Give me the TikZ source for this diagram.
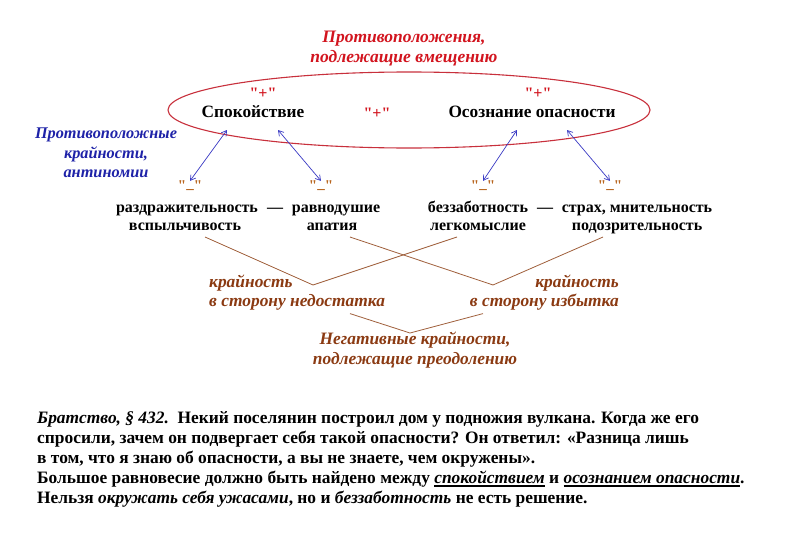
\documentclass[tikz,border=0pt]{standalone}
\usepackage{fontspec}
\setmainfont{Liberation Serif}
\newfontfamily\plainserif[Ligatures=TeXOff]{Liberation Serif}
\usepackage{tikz}
\usetikzlibrary{calc,arrows.meta}
\definecolor{redtxt}{HTML}{D2141E}
\definecolor{ovalred}{HTML}{C8303C}
\definecolor{bluetxt}{HTML}{1E22A8}
\definecolor{arrowblue}{HTML}{3A3AC4}
\definecolor{browntxt}{HTML}{8B3A12}
\definecolor{brownline}{HTML}{A0603C}
\definecolor{minusbrown}{HTML}{B8651E}
\tikzset{
  ovalline/.style={draw=ovalred, line width=1.1pt},
  antarr/.style={draw=arrowblue, line width=0.7pt, {Straight Barb[length=5pt,width=6pt]}-{Straight Barb[length=5pt,width=6pt]}},
  brownseg/.style={draw=brownline, line width=0.8pt},
  term/.style={inner sep=0pt, anchor=base, font=\fontsize{16}{19}\selectfont\bfseries},
  bigterm/.style={term, font=\fontsize{17.3}{20}\selectfont\bfseries},
  redlab/.style={inner sep=0pt, text=redtxt, align=center, font=\fontsize{17.5}{20}\selectfont\bfseries\itshape},
  bluelab/.style={inner sep=0pt, text=bluetxt, align=center, font=\fontsize{16.3}{19.5}\selectfont\bfseries\itshape},
  brownlab/.style={inner sep=0pt, text=browntxt, font=\fontsize{17.4}{19.5}\selectfont\bfseries\itshape},
  plusmark/.style={inner sep=0pt, text=redtxt, font=\plainserif\fontsize{16}{16}\selectfont\bfseries},
  minusmark/.style={inner sep=0pt, text=minusbrown, font=\plainserif\fontsize{15}{16}\selectfont\bfseries},
}
\newcommand{\thickul}[1]{\setbox0\hbox{#1}\mbox{\rlap{\rule[-3pt]{\wd0}{1.5pt}}\box0}}
\newcommand{\lowdash}{"\raisebox{2.5pt}{\_}"}

\begin{document}
\begin{tikzpicture}[x=1pt,y=-1pt]
  \useasboundingbox[fill=white] (0,0) rectangle (800,543);
  % opposites to be held together
  \node[redlab] (title) at (404,49) {Противоположения,\\подлежащие вмещению};
  \draw[ovalline] (409,110) ellipse [x radius=241, y radius=38];
  \node[plusmark] (plusA) at (263,93) {"+"};
  \node[plusmark] (plusM) at (377,113) {"+"};
  \node[plusmark] (plusB) at (538,93) {"+"};
  \node[bigterm] (calm) at (253,117.5) {Спокойствие};
  \node[bigterm] (aware) at (532,117.5) {Осознание опасности};
  \node[bluelab] (antin) at (106,153) {Противоположные\\крайности,\\антиномии};
  % negative extremes
  \node[minusmark] (mA) at (190,186) {\lowdash};
  \node[minusmark] (mB) at (321,186) {\lowdash};
  \node[minusmark] (mC) at (483,186) {\lowdash};
  \node[minusmark] (mD) at (610,186) {\lowdash};
  \node[term] (irrit) at (187,212) {раздражительность};
  \node[term] (dashA) at (275,212) {—};
  \node[term] (indiff) at (336,212) {равнодушие};
  \node[term] (flash) at (185,230.5) {вспыльчивость};
  \node[term] (apathy) at (332,230.5) {апатия};
  \node[term] (careless) at (478,212) {беззаботность};
  \node[term] (dashB) at (545,212) {—};
  \node[term] (fear) at (637,212) {страх, мнительность};
  \node[term] (light) at (478,230.5) {легкомыслие};
  \node[term] (suspic) at (637,230.5) {подозрительность};
  \draw[antarr] ($(calm.base)+(-26,12.5)$) -- (mA.north);
  \draw[antarr] ($(calm.base)+(25,12.5)$) -- (mB.north);
  \draw[antarr] ($(aware.base)+(-15,12.5)$) -- (mC.north);
  \draw[antarr] ($(aware.base)+(35,12.5)$) -- (mD.north);
  % deficiency / excess
  \node[brownlab, align=left, anchor=west] (lack) at (209,292.5) {крайность\\в сторону недостатка};
  \node[brownlab, align=right, anchor=east] (excess) at (619,292.5) {крайность\\в сторону избытка};
  \node[brownlab, align=center] (neg) at (415,350) {Негативные крайности,\\подлежащие преодолению};
  \coordinate (lackV) at (313,285);
  \coordinate (excessV) at (493,285);
  \coordinate (negV) at (410,333);
  \draw[brownseg] ($(flash.base)+(20,6.5)$) -- (lackV) -- ($(light.base)+(-21,6.5)$);
  \draw[brownseg] ($(apathy.base)+(18,6.5)$) -- (excessV) -- ($(suspic.base)+(-34,6.5)$);
  \draw[brownseg] ($(lack.south west)+(141,3)$) -- (negV) -- ($(excess.south east)+(-136,3)$);
  % quotation
  \node[inner sep=0pt, anchor=north west, align=left,
        font=\fontsize{17.4}{20}\selectfont\bfseries] (quote) at (37,411.5)
    {\textit{Братство, § 432.}\ \ Некий поселянин построил дом у подножия вулкана. Когда же его\\
     спросили, зачем он подвергает себя такой опасности? Он ответил: «Разница лишь\\
     в том, что я знаю об опасности, а вы не знаете, чем окружены».\\
     Большое равновесие должно быть найдено между \thickul{\textit{спокойствием}} и \thickul{\textit{осознанием опасности}}.\\
     Нельзя \textit{окружать себя ужасами}, но и \textit{беззаботность} не есть решение.};
\end{tikzpicture}
\end{document}
